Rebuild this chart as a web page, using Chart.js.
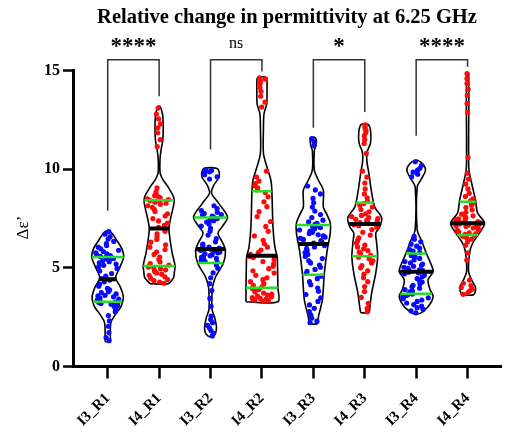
<!DOCTYPE html>
<html><head><meta charset="utf-8">
<script src="https://cdn.jsdelivr.net/npm/chart.js@4.4.0/dist/chart.umd.min.js"></script>
<style>html,body{margin:0;padding:0;background:#fff}#wrap{width:505px;height:432px}</style>
</head><body><div id="wrap"><canvas id="c" width="505" height="432"></canvas></div>
<script>
// ---------- DATA ----------
const categories = ['I3_R1','I4_R1','I3_R2','I4_R2','I3_R3','I4_R3','I3_R4','I4_R4'];
const yTicks = [0, 5, 10, 15];

const I3_R1 = [1.31,1.47,1.72,2.04,2.31,2.58,2.77,2.91,3.02,3.07,3.12,3.16,3.19,3.22,3.24,3.27,
  3.31,3.36,3.42,3.47,3.53,3.58,3.61,3.68,3.74,3.79,3.88,3.96,4.07,4.18,4.29,4.38,
  4.46,4.58,4.71,4.84,4.97,5.06,5.13,5.19,5.26,5.31,5.36,5.41,5.45,5.48,5.51,5.54,
  5.58,5.62,5.67,5.71,5.76,5.83,5.89,5.97,6.05,6.14,6.23,6.34,6.46,6.58,6.71,6.84];
const I4_R1 = [4.22,4.28,4.35,4.41,4.47,4.55,4.62,4.68,4.74,4.8,4.85,4.9,4.95,5.0,5.04,5.08,
  5.14,5.21,5.3,5.42,5.55,5.68,5.8,5.93,6.05,6.17,6.3,6.44,6.58,6.72,6.85,6.96,
  7.06,7.15,7.27,7.38,7.5,7.63,7.74,7.86,7.97,8.07,8.15,8.22,8.28,8.33,8.37,8.41,
  8.46,8.5,8.55,8.6,8.66,8.74,8.85,9.05,11.15,11.5,11.85,12.1,12.3,12.55,12.8,13.1];
const I3_R2 = [1.55,1.68,1.82,1.95,2.08,2.22,2.38,2.55,3.05,3.45,3.85,4.2,4.5,4.75,4.98,5.15,
  5.28,5.33,5.38,5.43,5.48,5.53,5.58,5.62,5.67,5.72,5.76,5.8,5.85,5.89,5.92,5.95,
  6.0,6.05,6.12,6.2,6.32,6.48,6.66,6.85,7.0,7.12,7.23,7.32,7.39,7.45,7.5,7.53,
  7.58,7.62,7.66,7.7,7.75,7.82,7.9,8.0,8.15,9.5,9.62,9.72,9.8,9.87,9.93,9.98];
const I4_R2 = [3.3,3.33,3.36,3.39,3.42,3.45,3.49,3.53,3.57,3.62,3.67,3.72,3.78,3.84,3.9,3.96,
  4.04,4.12,4.2,4.3,4.4,4.5,4.62,4.74,4.85,4.96,5.08,5.2,5.32,5.43,5.52,5.58,
  5.68,5.78,5.9,6.05,6.22,6.4,6.62,6.85,7.1,7.35,7.6,7.85,8.1,8.35,8.6,8.82,
  8.95,9.05,9.15,9.27,9.4,9.6,9.9,13.15,13.4,13.7,13.95,14.15,14.35,14.5,14.58,14.63];
const I3_R3 = [2.22,2.3,2.45,2.6,2.78,2.95,3.12,3.3,3.48,3.65,3.82,3.98,4.15,4.3,4.45,4.58,
  4.72,4.82,4.92,5.03,5.14,5.25,5.36,5.47,5.58,5.68,5.78,5.88,5.97,6.06,6.13,6.18,
  6.26,6.32,6.38,6.44,6.5,6.56,6.62,6.68,6.74,6.8,6.86,6.92,6.98,7.04,7.09,7.14,
  7.2,7.26,7.33,7.42,7.55,7.7,7.88,8.08,8.3,8.52,8.75,8.95,9.15,11.2,11.4,11.55];
const I4_R3 = [2.78,2.95,3.2,3.5,3.8,4.05,4.3,4.5,4.68,4.85,5.0,5.12,5.25,5.36,5.46,5.54,
  5.64,5.72,5.8,5.88,5.97,6.06,6.15,6.26,6.38,6.52,6.66,6.8,6.94,7.06,7.14,7.19,
  7.26,7.3,7.34,7.38,7.42,7.46,7.5,7.55,7.6,7.66,7.74,7.84,7.96,8.08,8.18,8.26,
  8.38,8.55,8.75,9.0,9.3,9.6,9.9,10.8,11.3,11.5,11.7,11.85,11.95,12.05,12.15,12.25];
const I3_R4 = [2.72,2.82,2.9,2.98,3.06,3.14,3.22,3.3,3.37,3.43,3.48,3.52,3.56,3.6,3.63,3.67,
  3.72,3.78,3.84,3.9,3.97,4.04,4.12,4.2,4.28,4.37,4.46,4.55,4.63,4.7,4.75,4.78,
  4.83,4.86,4.9,4.94,4.98,5.03,5.08,5.13,5.19,5.25,5.32,5.4,5.48,5.56,5.63,5.7,
  5.78,5.85,5.92,6.0,6.1,6.2,6.32,6.45,6.6,9.62,9.75,9.85,9.95,10.05,10.2,10.38];
const I4_R4 = [3.66,3.75,3.84,3.92,4.0,4.1,4.22,4.38,5.4,5.76,6.15,6.32,6.45,6.54,6.6,6.64,
  6.7,6.74,6.78,6.82,6.86,6.9,6.94,6.98,7.02,7.06,7.1,7.14,7.17,7.2,7.23,7.25,
  7.28,7.31,7.34,7.37,7.4,7.44,7.48,7.53,7.58,7.64,7.72,7.82,7.94,8.06,8.18,8.3,
  8.4,8.5,8.62,8.78,9.0,9.25,9.5,9.8,10.6,12.88,13.33,13.74,14.05,14.34,14.6,14.85];

const medians = [4.42, 7.0, 5.96, 5.61, 6.21, 7.22, 4.8, 7.26];
const q1 = [3.28, 5.1, 5.25, 3.99, 4.65, 5.59, 3.69, 6.67];
const q3 = [5.55, 8.43, 7.55, 8.89, 7.17, 8.3, 5.73, 8.35];

// violin density outlines: [value, relative density]
const shape_I3_R1 = [[1.26,0.15],[1.6,0.15],[2.0,0.16],[2.27,0.2],[2.5,0.35],[2.73,0.53],[3.0,0.76],[3.5,0.92],[4.0,0.76],[4.5,0.47],[5.0,0.7],[5.55,0.94],[6.0,0.82],[6.4,0.53],[6.7,0.3],[6.87,0.08]];
const shape_I4_R1 = [[4.2,0.53],[4.5,0.85],[4.8,0.9],[5.1,0.94],[5.8,0.76],[6.8,0.59],[7.1,0.59],[7.6,0.7],[8.3,0.88],[8.6,0.85],[9.1,0.53],[9.45,0.24],[9.8,0.06],[10.6,0.06],[11.0,0.12],[11.5,0.22],[12.3,0.24],[12.8,0.2],[13.18,0.06]];
const shape_I3_R2 = [[1.52,0.12],[1.7,0.3],[2.0,0.35],[2.5,0.24],[2.9,0.09],[3.7,0.09],[4.04,0.12],[4.55,0.3],[5.25,0.76],[5.9,0.88],[6.3,0.7],[6.77,0.44],[7.1,0.7],[7.58,1.0],[8.28,0.47],[8.79,0.06],[9.2,0.2],[9.6,0.5],[9.9,0.5],[10.05,0.35]];
const shape_I4_R2 = [[3.28,0.94],[4.0,0.94],[5.0,0.92],[5.56,0.9],[6.06,0.76],[7.07,0.65],[8.79,0.59],[9.44,0.53],[10.1,0.3],[10.8,0.09],[12.1,0.09],[12.8,0.12],[13.3,0.28],[13.9,0.3],[14.4,0.3],[14.65,0.25]];
const shape_I3_R3 = [[2.17,0.24],[2.53,0.3],[3.38,0.53],[4.75,0.65],[5.91,0.82],[6.77,1.0],[7.27,1.0],[7.7,0.8],[8.08,0.59],[8.94,0.59],[9.44,0.3],[9.95,0.06],[10.96,0.06],[11.2,0.15],[11.45,0.18],[11.6,0.1]];
const shape_I4_R3 = [[2.73,0.24],[3.03,0.3],[3.74,0.41],[4.75,0.65],[5.56,0.76],[6.26,0.7],[6.77,0.65],[7.07,0.88],[7.53,1.0],[8.08,0.59],[8.79,0.41],[9.8,0.24],[10.45,0.12],[10.9,0.15],[11.3,0.33],[11.9,0.35],[12.27,0.2]];
const shape_I3_R4 = [[2.68,0.2],[3.03,0.7],[3.54,1.0],[3.89,0.82],[4.39,0.7],[4.8,1.0],[5.05,0.94],[5.76,0.59],[6.41,0.3],[6.92,0.06],[9.1,0.06],[9.5,0.3],[9.95,0.55],[10.25,0.4],[10.45,0.1]];
const shape_I4_R4 = [[3.64,0.35],[3.99,0.47],[4.39,0.24],[4.8,0.06],[5.76,0.12],[6.26,0.3],[6.77,0.7],[7.27,1.0],[7.78,0.59],[8.43,0.47],[9.29,0.24],[10.0,0.08],[10.96,0.06],[14.85,0.06]];

const sigLabels = ['****', 'ns', '*', '****'];
const bracketTop = 15.55;
const bracketLegs = [[7.9, 13.7], [11.0, 14.95], [12.1, 12.9], [11.7, 15.2]];

// ---------- BUILD ----------
const groups = [I3_R1, I4_R1, I3_R2, I4_R2, I3_R3, I4_R3, I3_R4, I4_R4];
const shapes = [shape_I3_R1, shape_I4_R1, shape_I3_R2, shape_I4_R2, shape_I3_R3, shape_I4_R3, shape_I3_R4, shape_I4_R4];
const MAXW = 0.33;
const SERIF = "'Liberation Serif','Times New Roman',serif";
const BLUE = '#0a0aff', RED = '#ff0a0a', GREEN = '#22e022';

function dens(shape, v) {
  if (v <= shape[0][0]) return shape[0][1];
  for (let k = 1; k < shape.length; k++) {
    if (v <= shape[k][0]) {
      const [a, da] = shape[k-1], [b, db] = shape[k];
      return da + (db - da) * (v - a) / (b - a);
    }
  }
  return shape[shape.length-1][1];
}
function jit(k) { const s = Math.sin(k * 127.1 + 311.7) * 43758.5453; return s - Math.floor(s); }

const datasets = [];
shapes.forEach((shape, i) => {
  const left = shape.map(([v, d]) => ({x: i - d * MAXW, y: v}));
  const right = shape.slice().reverse().map(([v, d]) => ({x: i + d * MAXW, y: v}));
  datasets.push({data: [...left, ...right, left[0]], showLine: true, borderColor: '#000', borderWidth: 1.6,
    pointRadius: 0, tension: 0.3, fill: false, order: 5});
});
groups.forEach((vals, i) => {
  const shape = shapes[i];
  datasets.push({data: vals.map((v, k) => ({x: i + (jit(k + i * 97) * 2 - 1) * dens(shape, v) * MAXW * 0.82, y: v})),
    showLine: false, pointRadius: 2.6, pointBorderWidth: 0, backgroundColor: i % 2 === 0 ? BLUE : RED,
    borderColor: i % 2 === 0 ? BLUE : RED, order: 4});
});
function hline(i, v, color, w, order) {
  const d = dens(shapes[i], v) * MAXW;
  datasets.push({data: [{x: i - d, y: v}, {x: i + d, y: v}], showLine: true, borderColor: color, borderWidth: w,
    pointRadius: 0, order: order});
}
for (let i = 0; i < 8; i++) { hline(i, q1[i], GREEN, 2.5, 2); hline(i, q3[i], GREEN, 2.5, 2); hline(i, medians[i], '#000', 4, 1); }
bracketLegs.forEach(([a, b], j) => {
  const l = j * 2, r = j * 2 + 1;
  datasets.push({data: [{x: l, y: a}, {x: l, y: bracketTop}, {x: r, y: bracketTop}, {x: r, y: b}], showLine: true,
    borderColor: '#333', borderWidth: 1.5, pointRadius: 0, clip: false, order: 0});
});

const textPlugin = {
  id: 'texts',
  afterDraw(chart) {
    const ctx = chart.ctx, xs = chart.scales.x, ys = chart.scales.y;
    ctx.save();
    ctx.fillStyle = '#000';
    ctx.textAlign = 'center';
    ctx.textBaseline = 'alphabetic';
    sigLabels.forEach((t, j) => {
      const x = xs.getPixelForValue(j * 2 + 0.5);
      if (t === 'ns') { ctx.font = '16px ' + SERIF; ctx.fillText(t, x, 48); }
      else { ctx.font = 'bold 23px ' + SERIF; ctx.fillText(t, x, 53); }
    });
    ctx.translate(28, (ys.top + ys.bottom) / 2 + 9);
    ctx.rotate(-Math.PI / 2);
    ctx.font = '17px ' + SERIF;
    ctx.fillText('Δε\u2019', 0, 0);
    ctx.restore();
  }
};

new Chart(document.getElementById('c'), {
  type: 'scatter',
  data: {datasets},
  options: {
    responsive: false, animation: false, devicePixelRatio: 1,
    layout: {padding: {left: 0, right: 0, top: 0, bottom: 0}},
    plugins: {
      legend: {display: false}, tooltip: {enabled: false},
      title: {display: true, text: 'Relative change in permittivity at 6.25 GHz', color: '#000', fullSize: false,
        font: {family: SERIF, size: 20.5, weight: 'bold'}, padding: {top: 5, bottom: 41}}
    },
    scales: {
      x: {
        type: 'linear', min: -0.675, max: 7.65,
        afterBuildTicks: s => { s.ticks = categories.map((c, i) => ({value: i})); },
        afterFit: s => { s.height = 65.5; },
        ticks: {autoSkip: false, minRotation: 45, maxRotation: 45, color: '#000', padding: 11,
          font: {family: SERIF, size: 15, weight: 'bold'}, callback: v => categories[v] ?? ''},
        grid: {drawOnChartArea: false, drawTicks: true, tickLength: 12, tickWidth: 2.5, color: '#000'},
        border: {display: true, width: 3, color: '#000'}
      },
      y: {
        min: 0, max: 15,
        afterBuildTicks: s => { s.ticks = yTicks.map(v => ({value: v})); },
        afterFit: s => { s.width = 73; },
        ticks: {color: '#000', padding: 3, font: {family: SERIF, size: 16, weight: 'bold'}},
        grid: {drawOnChartArea: false, drawTicks: true, tickLength: 10, tickWidth: 2.5, color: '#000'},
        border: {display: true, width: 3, color: '#000'}
      }
    }
  },
  plugins: [textPlugin]
});
</script></body></html>
